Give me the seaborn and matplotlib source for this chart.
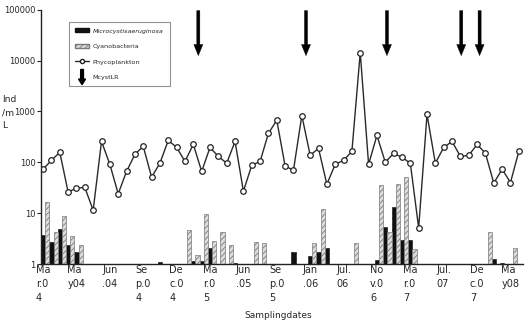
import matplotlib
matplotlib.use("Agg")
import matplotlib.pyplot as plt
import matplotlib.patches as mpatches
from matplotlib.lines import Line2D
from matplotlib.legend_handler import HandlerPatch
import numpy as np
import pandas as pd
import seaborn as sns

# Phycoplankton abundance (Ind/mL), one value per sampling date
phyto = [73, 109, 157, 26, 31, 32, 11.4, 257, 91, 24,
         66, 143, 206, 51, 96, 270, 196, 104, 225, 66,
         196, 130, 96, 257, 27, 87, 104, 371, 670, 84,
         70, 830, 137, 188, 37, 91, 109, 164, 14400, 91,
         338, 100, 150, 125, 96, 5.1, 870, 96, 196, 257,
         130, 137, 225, 150, 39, 73, 40, 164]

# Microcystis aeruginosa (black bars), 0 = not found
micro = [3.7, 2.7, 4.8, 2.4, 1.7, 0, 0, 0, 0, 0,
         0, 0, 0, 0, 1.1, 0, 0, 0, 1.16, 1.16,
         2.1, 0, 0, 1.05, 0, 0, 0, 0, 0, 0,
         1.7, 0, 1.45, 1.74, 2.06, 0, 0, 0, 0, 0,
         1.2, 5.4, 13.3, 2.95, 2.95, 0, 0, 0, 0, 0,
         0, 0, 0, 0, 1.27, 1.05, 0, 0]

# Cyanobacteria (hatched grey bars)
cyano = [16.6, 4.3, 8.8, 3.6, 2.4, 0, 0, 0, 0, 0,
         0, 0, 0, 0, 0, 0, 0, 4.6, 1.5, 9.6,
         2.8, 4.2, 2.4, 0, 0, 2.7, 2.6, 0, 0, 0,
         0, 0, 2.6, 11.8, 0, 0, 0, 2.6, 0, 0,
         36, 4.2, 38, 51, 1.94, 0, 0, 0, 0, 0,
         0, 0, 0, 4.2, 0, 0, 2.03, 0]

# McystLR detections (position on the sampling axis)
mcyst_dates = [18.6, 31.5, 41.2, 50.1, 52.3]

date_labels = ["Ma\nr.0\n4", "Ma\ny04", "Jun\n.04", "Se\np.0\n4", "De\nc.0\n4",
               "Ma\nr.0\n5", "Jun\n.05", "Se\np.0\n5", "Jan\n.06", "Jul.\n06",
               "No\nv.0\n6", "Ma\nr.0\n7", "Jul.\n07", "De\nc.0\n7", "Ma\ny08"]

n = len(phyto)
idx = np.arange(n)
df = pd.DataFrame({"idx": np.concatenate([idx, idx]),
                   "value": micro + cyano,
                   "taxon": ["Microcystis"] * n + ["Cyanobacteria"] * n})

sns.set_style("white")
plt.rcParams["font.family"] = ["DejaVu Sans"]
plt.rcParams["hatch.linewidth"] = 0.6

fig = plt.figure(figsize=(5.29, 3.28), dpi=100)
ax = fig.add_axes([41 / 529, 1 - 264 / 328, 482 / 529, 254.3 / 328])

sns.barplot(data=df, x="idx", y="value", hue="taxon",
            hue_order=["Microcystis", "Cyanobacteria"],
            palette={"Microcystis": "#111111", "Cyanobacteria": "#dcdcdc"},
            width=1.0, dodge=True, legend=False, ax=ax, saturation=1)
for bar in ax.containers[0]:
    bar.set_edgecolor("#111111")
    bar.set_hatch("//////")
    bar.set_linewidth(0.4)
for bar in ax.containers[1]:
    bar.set_edgecolor("#7a7a7a")
    bar.set_hatch("//////")
    bar.set_linewidth(0.5)
# bars sit a little right of the sample points in the original
for cont in ax.containers:
    for bar in cont:
        bar.set_x(bar.get_x() + 0.25)

sns.lineplot(x=idx, y=phyto, color="#2a2a2a", lw=1.0, marker="o",
             markersize=4, markerfacecolor="white", markeredgecolor="#222222",
             markeredgewidth=0.9, ax=ax)

ax.set_yscale("log")
ax.set_ylim(1, 1e5)
ax.set_xlim(-0.25, 57.5)

for d in mcyst_dates:
    ax.annotate("", xy=(d, 1.25e4), xytext=(d, 9.6e4),
                arrowprops=dict(width=2.2, headwidth=6.5, headlength=8,
                                facecolor="black", edgecolor="black", lw=0.3))

ax.set_yticks([1, 10, 100, 1000, 10000, 100000])
ax.set_yticklabels(["1", "10", "100", "1000", "10000", "100000"])
ax.yaxis.set_minor_locator(matplotlib.ticker.NullLocator())
ax.tick_params(axis="y", left=True, length=3, width=0.8, pad=1, labelsize=6)
ax.set_xticks(idx[::4])
ax.set_xticklabels(date_labels, fontsize=7, linespacing=1.45,
                   va="top", ha="center", multialignment="left")
ax.tick_params(axis="x", bottom=False, length=0, pad=1)
ax.set_xlabel("")
ax.set_ylabel("")

for s in ["top", "right"]:
    ax.spines[s].set_visible(False)
for s in ["left", "bottom"]:
    ax.spines[s].set_color("#222222")
    ax.spines[s].set_linewidth(1.0)

fig.text(2 / 529, 1 - 95 / 328, "Ind\n/m\nL", ha="left", va="top",
         fontsize=6.6, linespacing=1.6, multialignment="left")
fig.text(278 / 529, 1 - 316 / 328, "Samplingdates", ha="center",
         va="center", fontsize=6.5)


def make_arrow(legend, orig_handle, xdescent, ydescent, width, height, fontsize):
    return mpatches.FancyArrow(width / 2, height + 4, 0, -height - 8,
                               width=2, head_width=5, head_length=4,
                               length_includes_head=True)


h_micro = mpatches.Patch(facecolor="#111111", edgecolor="#111111")
h_cyano = mpatches.Patch(facecolor="#dcdcdc", edgecolor="#7a7a7a", hatch="//////")
h_phyto = Line2D([], [], color="#2a2a2a", lw=1.0, marker="o", markersize=3,
                 markerfacecolor="white", markeredgecolor="#222222")
h_arrow = mpatches.FancyArrow(0, 0, 0, 1, color="black")
leg = ax.legend([h_micro, h_cyano, h_phyto, h_arrow],
                ["Microcystisaeruginosa", "Cyanobacteria", "Phycoplankton", "McystLR"],
                handler_map={mpatches.FancyArrow: HandlerPatch(patch_func=make_arrow)},
                loc="upper left", bbox_to_anchor=(0.058, 0.952), borderaxespad=0,
                fontsize=4.6, frameon=True, fancybox=False, handlelength=2.1,
                handletextpad=0.6, handleheight=0.6, labelspacing=1.6,
                borderpad=1.0)
leg.get_frame().set_edgecolor("#777777")
leg.get_frame().set_linewidth(0.8)
leg.get_texts()[0].set_style("italic")

fig.savefig("out.png", dpi=100)
